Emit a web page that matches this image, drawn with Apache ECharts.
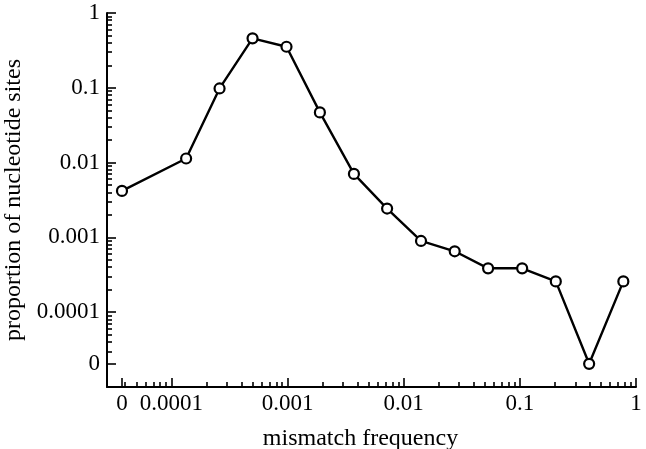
<!DOCTYPE html>
<html>
<head>
<meta charset="utf-8">
<script src="https://cdn.jsdelivr.net/npm/echarts@6/dist/echarts.min.js"></script>
<style>
  html, body { margin: 0; padding: 0; background: #ffffff; }
  #chart { width: 646px; height: 449px; }
</style>
</head>
<body>
<div id="chart"></div>
<script>
// mismatch frequency (x) and proportion of nucleotide sites (y); 0 = zero value, drawn at the axis break
const mismatchFreq = [0, 0.000134, 0.00026, 0.0005, 0.00098, 0.0019, 0.00373, 0.0072, 0.0141, 0.0275, 0.0533, 0.1047, 0.204, 0.395, 0.778]
const siteProportion = [0.00418, 0.01135, 0.098, 0.458, 0.354, 0.0469, 0.00706, 0.00243, 0.000896, 0.000652, 0.000386, 0.000386, 0.000258, 0, 0.000258]

const xTickValues = [0, 0.0001, 0.001, 0.01, 0.1, 1]
const xTickLabels = ['0', '0.0001', '0.001', '0.01', '0.1', '1']
const yTickValues = [0, 0.0001, 0.001, 0.01, 0.1, 1]
const yTickLabels = ['0', '0.0001', '0.001', '0.01', '0.1', '1']

// where a zero value sits on each log axis (in log10 units)
const ZERO_X = -4.425
const ZERO_Y = -4.69

const FONT = '"Liberation Serif", "DejaVu Serif", serif'

function logX(v) { return v === 0 ? ZERO_X : Math.log10(v) }
function logY(v) { return v === 0 ? ZERO_Y : Math.log10(v) }

function minorTicks(lo, hi) {
  const out = []
  for (let e = -6; e <= 0; e++) {
    for (let k = 2; k <= 9; k++) {
      const p = e + Math.log10(k)
      if (p > lo && p < hi) out.push(p)
    }
  }
  return out
}

function labelFor(values, labels, toLog) {
  return (v) => {
    for (let i = 0; i < values.length; i++) {
      if (Math.abs(toLog(values[i]) - v) < 1e-6) return labels[i]
    }
    return ''
  }
}

const X_MIN = -4.554, X_MAX = 0
const Y_MIN = -5, Y_MAX = 0

const xMajor = xTickValues.map(logX)
const yMajor = yTickValues.map(logY)
const xMinor = minorTicks(-4.45, 0).filter(p => Math.abs(p - ZERO_X) > 0.02)
const yMinor = minorTicks(-4.66, 0)

const tickStyle = { color: '#000', width: 1.6 }

const chart = echarts.init(document.getElementById('chart'), null, { renderer: 'canvas' })
chart.setOption({
  animation: false,
  backgroundColor: '#ffffff',
  grid: { left: 107, right: 10, top: 13, bottom: 62, containLabel: false, outerBoundsMode: 'none' },
  xAxis: [
    {
      type: 'value',
      position: 'bottom',
      min: X_MIN,
      max: X_MAX,
      name: 'mismatch frequency',
      nameLocation: 'middle',
      nameGap: 40,
      nameTextStyle: { fontFamily: FONT, fontSize: 24, color: '#000', padding: [0, 22, 0, 0] },
      axisLine: { show: true, onZero: false, lineStyle: { color: '#000', width: 2 } },
      axisTick: { show: true, inside: true, length: 9, customValues: xMajor, lineStyle: tickStyle },
      axisLabel: {
        customValues: xMajor,
        formatter: labelFor(xTickValues, xTickLabels, logX),
        fontFamily: FONT, fontSize: 23, color: '#000', margin: 5
      },
      splitLine: { show: false }
    },
    {
      type: 'value',
      position: 'bottom',
      offset: 0,
      min: X_MIN,
      max: X_MAX,
      axisLine: { show: false, onZero: false },
      axisTick: { show: true, inside: true, length: 5, customValues: xMinor, lineStyle: tickStyle },
      axisLabel: { show: false },
      splitLine: { show: false }
    }
  ],
  yAxis: [
    {
      type: 'value',
      position: 'left',
      min: Y_MIN,
      max: Y_MAX,
      name: 'proportion of nucleotide sites',
      nameLocation: 'middle',
      nameGap: 74,
      nameTextStyle: { fontFamily: FONT, fontSize: 24, color: '#000' },
      axisLine: { show: true, onZero: false, lineStyle: { color: '#000', width: 2 } },
      axisTick: { show: true, inside: true, length: 9, customValues: yMajor, lineStyle: tickStyle },
      axisLabel: {
        customValues: yMajor,
        formatter: labelFor(yTickValues, yTickLabels, logY),
        fontFamily: FONT, fontSize: 23, color: '#000', margin: 7
      },
      splitLine: { show: false }
    },
    {
      type: 'value',
      position: 'left',
      offset: 0,
      min: Y_MIN,
      max: Y_MAX,
      axisLine: { show: false, onZero: false },
      axisTick: { show: true, inside: true, length: 5, customValues: yMinor, lineStyle: tickStyle },
      axisLabel: { show: false },
      splitLine: { show: false }
    }
  ],
  series: [
    {
      type: 'line',
      xAxisIndex: 0,
      yAxisIndex: 0,
      data: mismatchFreq.map((f, i) => [logX(f), logY(siteProportion[i])]),
      lineStyle: { color: '#000', width: 2.4 },
      symbol: 'circle',
      symbolSize: 10,
      itemStyle: { color: '#fff', borderColor: '#000', borderWidth: 2.2 },
      z: 3
    }
  ]
})
</script>
</body>
</html>
